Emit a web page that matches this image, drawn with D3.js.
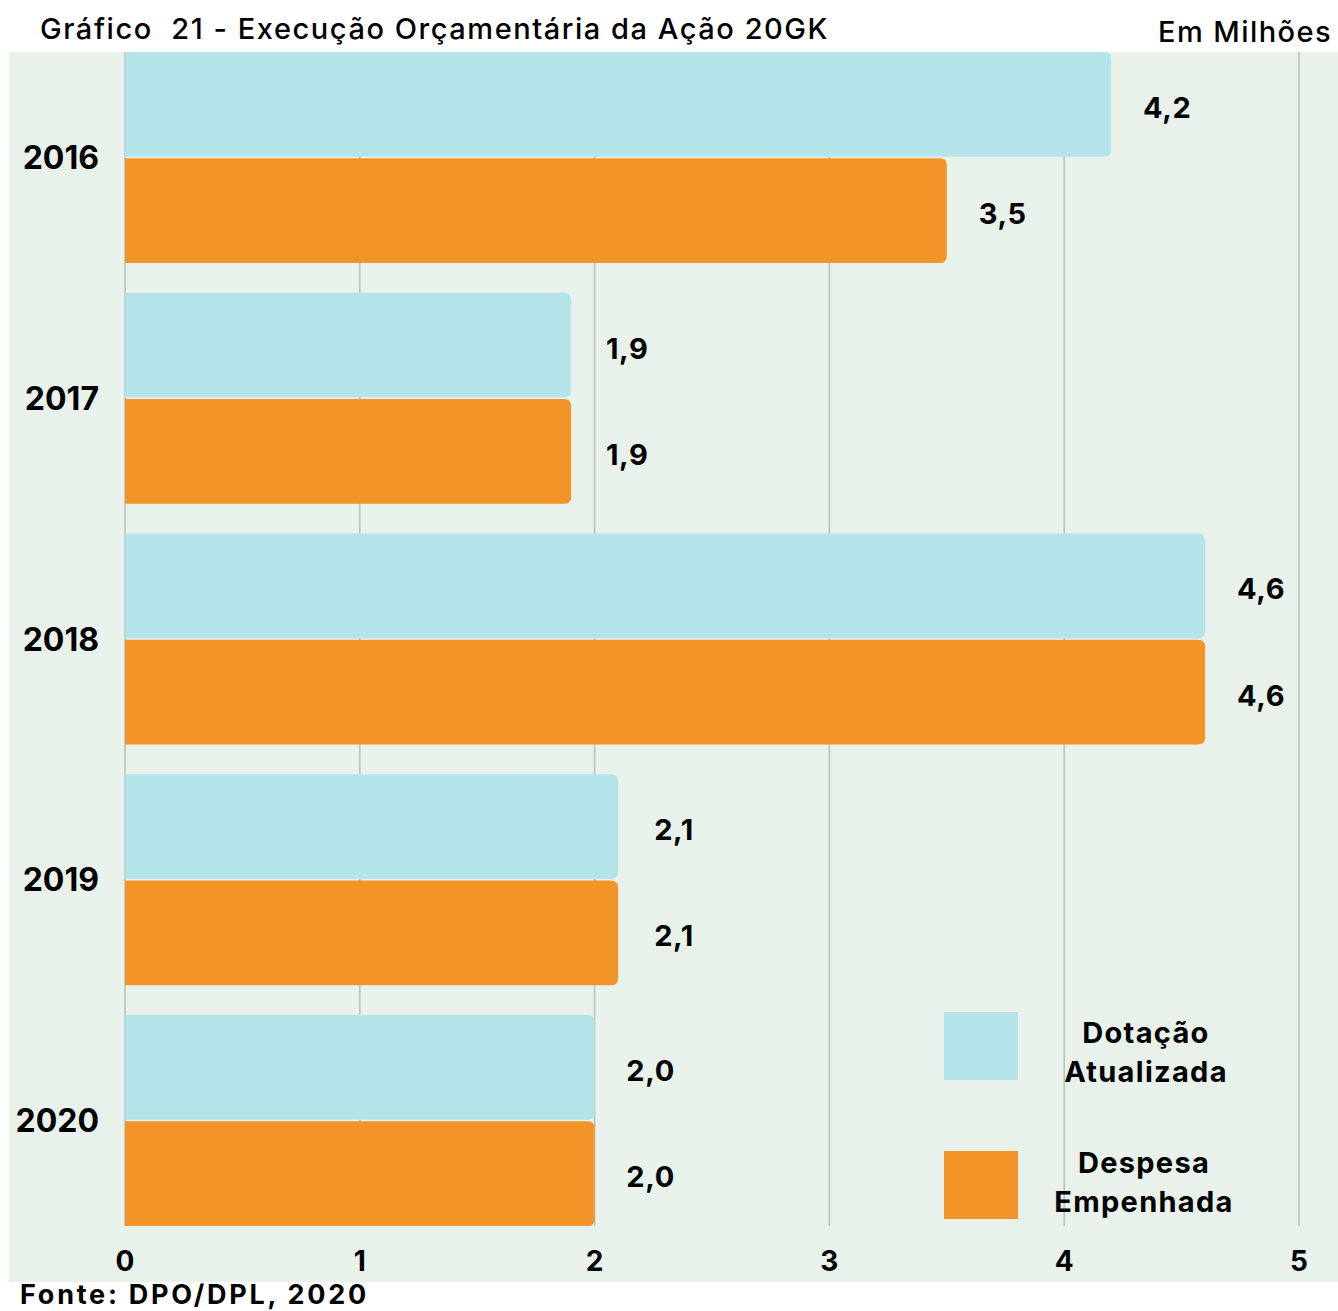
<!DOCTYPE html>
<html>
<head>
<meta charset="utf-8">
<script src="https://cdn.jsdelivr.net/npm/d3@7"></script>
<style>
  html, body { margin: 0; padding: 0; background: #ffffff; }
  svg { display: block; }
  text { font-family: Inter, "DejaVu Sans", sans-serif; fill: #000; }
</style>
</head>
<body>
<svg id="chart" width="1338" height="1311"></svg>
<script>
// Execução orçamentária da ação 20GK, em milhões de reais
const years = ["2016", "2017", "2018", "2019", "2020"];
const dotacao = [4.2, 1.9, 4.6, 2.1, 2.0];
const despesa = [3.5, 1.9, 4.6, 2.1, 2.0];
const seriesNames = [["Dotação", "Atualizada"], ["Despesa", "Empenhada"]];
const xTicks = [0, 1, 2, 3, 4, 5];

const colors = ["#b4e4e9", "#f29427"];
const svg = d3.select("#chart");

const plot = { left: 125, right: 1299, top: 52, bottom: 1226 };

// spread a text's letters so it spans the given width
function spreadTo(sel, width) {
  const node = sel.node();
  const w = node.getComputedTextLength();
  const n = node.textContent.length;
  sel.attr("letter-spacing", ((width - w) / n).toFixed(2));
  return sel;
}

// panel background
svg.append("rect")
  .attr("x", 9).attr("y", 52)
  .attr("width", 1338 - 9).attr("height", 1282 - 52)
  .attr("fill", "#e8f1ea");

const x = d3.scaleLinear().domain([0, 5]).range([plot.left, plot.right]);
const y0 = d3.scaleBand().domain(years).range([plot.top, plot.bottom])
  .paddingInner(0.124).paddingOuter(0);
const y1 = d3.scaleBand().domain([0, 1]).range([0, y0.bandwidth()]).paddingInner(0.014);

// vertical grid lines
svg.append("g").selectAll("line").data(xTicks).join("line")
  .attr("x1", d => x(d)).attr("x2", d => x(d))
  .attr("y1", plot.top).attr("y2", plot.bottom)
  .attr("stroke", "#b9bfbb").attr("stroke-width", 1.5);

// bars with rounded right ends
function barPath(x0, x1, yTop, h, r) {
  r = Math.min(r, (x1 - x0) / 2, h / 2);
  return `M${x0},${yTop}H${x1 - r}Q${x1},${yTop} ${x1},${yTop + r}` +
    `V${yTop + h - r}Q${x1},${yTop + h} ${x1 - r},${yTop + h}H${x0}Z`;
}

const rows = years.map((yr, i) => ({ year: yr, values: [dotacao[i], despesa[i]] }));
const groups = svg.append("g").selectAll("g").data(rows).join("g")
  .attr("transform", d => `translate(0,${y0(d.year)})`);

groups.selectAll("path").data(d => d.values.map((v, k) => ({ v, k }))).join("path")
  .attr("d", d => barPath(x(0), x(d.v), y1(d.k), y1.bandwidth(), 7))
  .attr("fill", d => colors[d.k]);

const fmt = v => d3.format(".1f")(v).replace(".", ",");
groups.selectAll("text.val").data(d => d.values.map((v, k) => ({ v, k }))).join("text")
  .attr("class", "val")
  .attr("x", d => x(d.v) + 56)
  .attr("y", d => y1(d.k) + y1.bandwidth() / 2 + 3)
  .attr("dy", "0.36em")
  .attr("text-anchor", "middle")
  .attr("font-size", 29).attr("font-weight", 700)
  .attr("letter-spacing", 0.6)
  .text(d => fmt(d.v));

// year labels
svg.append("g").selectAll("text").data(years).join("text")
  .attr("x", 99)
  .attr("y", d => y0(d) + y0.bandwidth() / 2)
  .attr("dy", "0.36em")
  .attr("text-anchor", "end")
  .attr("font-size", 32).attr("font-weight", 700)
  .text(d => d);

// x tick labels
svg.append("g").selectAll("text").data(xTicks).join("text")
  .attr("x", d => x(d)).attr("y", 1271)
  .attr("text-anchor", "middle")
  .attr("font-size", 28).attr("font-weight", 700)
  .text(d => d);

// legend
const legend = svg.append("g");
seriesNames.forEach((lines, k) => {
  const top = 1012 + k * 139;
  legend.append("rect")
    .attr("x", 944).attr("y", top).attr("width", 74).attr("height", 68)
    .attr("fill", colors[k]);
  lines.forEach((t, j) => {
    legend.append("text")
      .attr("x", k === 0 ? 1146 : 1144)
      .attr("y", (k === 0 ? 1043 : 1173) + j * 39)
      .attr("text-anchor", "middle")
      .attr("font-size", 29).attr("font-weight", 700)
      .attr("letter-spacing", 1.3)
      .text(t);
  });
});

// titles and source
spreadTo(svg.append("text").attr("x", 40).attr("y", 39)
  .attr("font-size", 29).attr("font-weight", 500)
  .attr("xml:space", "preserve")
  .text("Gráfico  21 - Execução Orçamentária da Ação 20GK"), 789);
spreadTo(svg.append("text").attr("x", 1158).attr("y", 42)
  .attr("font-size", 29).attr("font-weight", 500)
  .text("Em Milhões"), 174);
spreadTo(svg.append("text").attr("x", 20).attr("y", 1304)
  .attr("font-size", 27).attr("font-weight", 700)
  .text("Fonte: DPO/DPL, 2020"), 349);
</script>
</body>
</html>
